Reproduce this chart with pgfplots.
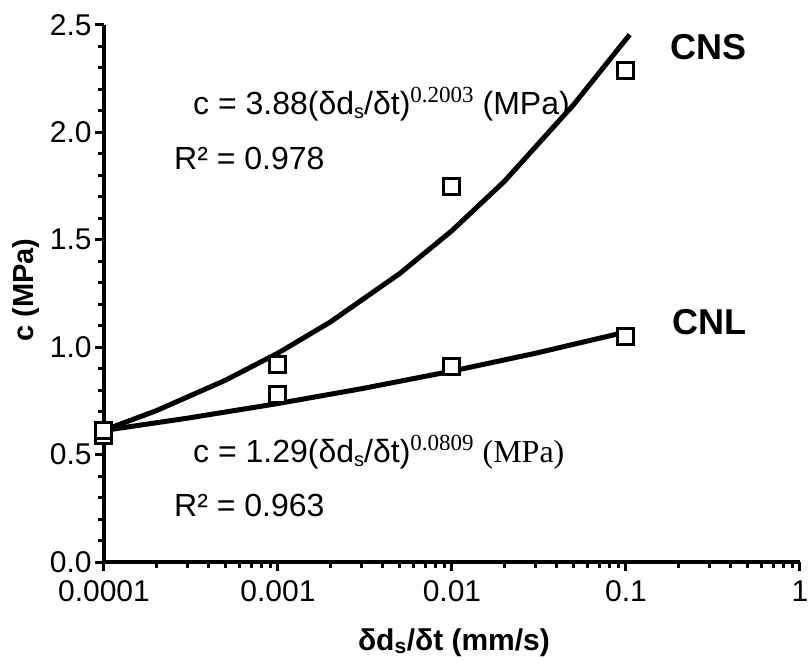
\documentclass[border=0pt]{standalone}
\usepackage{fontspec}
\setmainfont{Liberation Sans}
\newfontfamily\timesfont{Liberation Serif}
\usepackage{pgfplots}
\pgfplotsset{compat=1.18}
\newcommand{\supT}[1]{\raisebox{0.40em}{\timesfont\fontsize{23bp}{25bp}\selectfont #1}}
\newcommand{\subS}[1]{\raisebox{-0.12em}{\fontsize{20bp}{22bp}\selectfont #1}}
\begin{document}
\begin{tikzpicture}
\begin{axis}[
  at={(0,0)}, anchor=south west,
  scale only axis, width=696bp, height=537bp,
  xmode=log, xmin=1e-4, xmax=1, ymin=0, ymax=2.5,
  axis x line=bottom, axis y line=left,
  axis line style={-, line width=3.5bp},
  tick align=outside,
  major tick length=9bp, minor tick length=6bp,
  every tick/.style={black, line width=3bp},
  xtick={1e-4,1e-3,1e-2,1e-1,1},
  xticklabels={0.0001,0.001,0.01,0.1,1},
  minor xtick={2e-4,3e-4,4e-4,5e-4,6e-4,7e-4,8e-4,9e-4,2e-3,3e-3,4e-3,5e-3,6e-3,7e-3,8e-3,9e-3,2e-2,3e-2,4e-2,5e-2,6e-2,7e-2,8e-2,9e-2,0.2,0.3,0.4,0.5,0.6,0.7,0.8,0.9},
  ytick={0,0.5,1,1.5,2,2.5},
  minor y tick num=4,
  yticklabel style={/pgf/number format/.cd, fixed, fixed zerofill, precision=1, assume math mode=true},
  xticklabel style={yshift=-6bp},
  ticklabel style={font=\fontsize{30bp}{33bp}\selectfont},
  clip=false,
]
% fitted curves
\addplot[black, line width=5bp, line join=round, no marks] coordinates {
 (1e-4,0.6135) (2e-4,0.7045) (5e-4,0.8467) (1e-3,0.9725) (2e-3,1.1175)
 (5e-3,1.3425) (1e-2,1.5427) (2e-2,1.772) (5e-2,2.129) (0.105,2.455)};
\addplot[black, line width=5bp, line join=round, no marks] coordinates {
 (1e-4,0.6124) (3e-4,0.6693) (1e-3,0.7378) (3e-3,0.8063) (1e-2,0.8887)
 (3e-2,0.9713) (0.1,1.0707) (0.105,1.085)};
% data points
\addplot[only marks, mark=square*, mark size=8bp, mark options={line width=3bp, draw=black, fill=white}] coordinates {
 (1e-4,0.59) (1e-3,0.78) (1e-2,0.91) (0.1,1.05)};
\addplot[only marks, mark=square*, mark size=8bp, mark options={line width=3bp, draw=black, fill=white}] coordinates {
 (1e-4,0.61) (1e-3,0.92) (1e-2,1.75) (0.1,2.29)};
\end{axis}
\begin{scope}[every node/.style={inner sep=0pt}]
\node[anchor=base west, font=\fontsize{32bp}{36bp}\selectfont] at (89bp,447bp)
  {c = 3.88(δd\subS{s}/δt)\supT{0.2003} (MPa)};
\node[anchor=base west, font=\fontsize{32bp}{36bp}\selectfont] at (70bp,392bp) {R² = 0.978};
\node[anchor=base west, font=\fontsize{32bp}{36bp}\selectfont] at (89bp,99bp)
  {c = 1.29(δd\subS{s}/δt)\supT{0.0809} {\timesfont(MPa)}};
\node[anchor=base west, font=\fontsize{32bp}{36bp}\selectfont] at (70bp,45bp) {R² = 0.963};
\node[anchor=base west, font=\bfseries\fontsize{36bp}{40bp}\selectfont] at (566bp,502bp) {CNS};
\node[anchor=base west, font=\bfseries\fontsize{36bp}{40bp}\selectfont] at (568bp,227bp) {CNL};
\node[anchor=base, font=\bfseries\fontsize{30bp}{34bp}\selectfont] at (350bp,-88bp) {δd\textsubscript{s}/δt (mm/s)};
\node[anchor=center, rotate=90, font=\bfseries\fontsize{29bp}{32bp}\selectfont] at (-78bp,272bp) {c (MPa)};
\end{scope}
\pgfresetboundingbox
\path[use as bounding box] (-104bp,-103bp) rectangle (706bp,562bp);
\end{tikzpicture}
\end{document}
